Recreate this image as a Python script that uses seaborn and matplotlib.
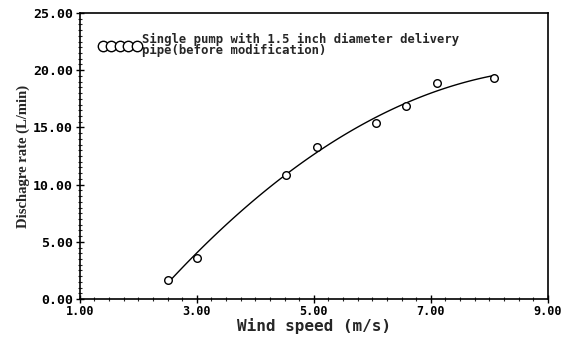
import numpy as np
import pandas as pd
import matplotlib
matplotlib.use("Agg")
import matplotlib.pyplot as plt
import seaborn as sns
from matplotlib.lines import Line2D
from matplotlib.ticker import MultipleLocator, FormatStrFormatter

# values
wind_speed = [2.5, 3.0, 4.53, 5.05, 6.07, 6.58, 7.1, 8.08]
discharge = [1.7, 3.6, 10.8, 13.3, 15.4, 16.9, 18.9, 19.3]
x_ticks = [1, 3, 5, 7, 9]
y_ticks = [0, 5, 10, 15, 20, 25]
legend_label = "Single pump with 1.5 inch diameter delivery\npipe(before modification)"

df = pd.DataFrame({"wind": wind_speed, "q": discharge})

# quadratic trend through the measured points
coef = np.polyfit(df["wind"], df["q"], 2)
xs = np.linspace(min(wind_speed), max(wind_speed), 100)
fit = pd.DataFrame({"wind": xs, "q": np.polyval(coef, xs)})

sns.set_style("white")
mono = "DejaVu Sans Mono"

fig = plt.figure(figsize=(5.66, 3.41), dpi=100)
ax = fig.add_axes([0.141, 0.123, 0.827, 0.839])

sns.lineplot(data=fit, x="wind", y="q", ax=ax, color="black", lw=1.0)
sns.scatterplot(data=df, x="wind", y="q", ax=ax, marker="o", s=30,
                facecolor="white", edgecolor="black", linewidth=1.0, zorder=3)

ax.set_xlim(1, 9)
ax.set_ylim(0, 25)
ax.set_xticks(x_ticks)
ax.set_yticks(y_ticks)
ax.xaxis.set_minor_locator(MultipleLocator(0.25))
ax.yaxis.set_minor_locator(MultipleLocator(0.5))
ax.xaxis.set_major_formatter(FormatStrFormatter("%.2f"))
ax.yaxis.set_major_formatter(FormatStrFormatter("%.2f"))
ax.tick_params(axis="both", which="major", direction="inout", length=6, width=1,
               labelsize=9.5, colors="black")
ax.tick_params(axis="both", which="minor", direction="inout", length=3, width=0.8)
ax.tick_params(axis="x", which="both", top=False, bottom=True, pad=1, labelsize=8.5)
ax.tick_params(axis="y", which="both", left=True, right=False, pad=2)
for lab in ax.get_xticklabels() + ax.get_yticklabels():
    lab.set_family(mono)
    lab.set_fontweight("bold")

for s in ax.spines.values():
    s.set_visible(True)
    s.set_color("black")
    s.set_linewidth(1.2)

ax.set_xlabel("Wind speed (m/s)", family=mono, fontweight="bold", fontsize=11.5, labelpad=0)
ax.set_ylabel("Dischagre rate (L/min)", family="Liberation Serif", fontweight="bold",
              fontsize=10.5, labelpad=2)

# five overlapping circles as in the original legend key
handle = Line2D([], [], marker="o", linestyle="none", markerfacecolor="white",
                markeredgecolor="black", markersize=7.5, markeredgewidth=1.0)
leg = ax.legend([handle], [legend_label], loc="upper left", bbox_to_anchor=(0.025, 0.955),
                numpoints=5, handlelength=3.4, handletextpad=0.15, frameon=False,
                borderaxespad=0.2, prop={"family": mono, "weight": "bold", "size": 8.8})
for t in leg.get_texts():
    t.set_linespacing(0.8)

fig.savefig("out.png", dpi=100)
